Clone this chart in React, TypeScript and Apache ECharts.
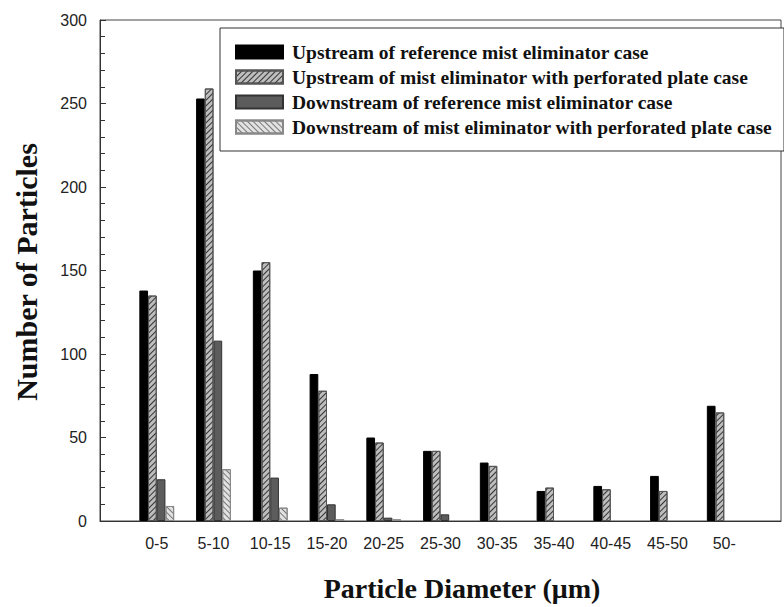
import React, { useEffect, useRef } from "react";
import * as echarts from "echarts";

const categories = ["", "0-5", "5-10", "10-15", "15-20", "20-25", "25-30", "30-35", "35-40", "40-45", "45-50", "50-", ""];
const upstreamRef = [null, 138, 253, 150, 88, 50, 42, 35, 18, 21, 27, 69, null];
const upstreamPerf = [null, 135, 259, 155, 78, 47, 42, 33, 20, 19, 18, 65, null];
const downstreamRef = [null, 25, 108, 26, 10, 2, 4, null, null, null, null, null, null];
const downstreamPerf = [null, 9, 31, 8, 1, 1, null, null, null, null, null, null, null];
const yTicks = [0, 50, 100, 150, 200, 250, 300];

const seriesNames = [
  "Upstream of reference mist eliminator case",
  "Upstream of mist eliminator with perforated plate case",
  "Downstream of reference mist eliminator case",
  "Downstream of mist eliminator with perforated plate case",
];

export default function App() {
  const ref = useRef<HTMLDivElement>(null);
  useEffect(() => {
    if (!ref.current) return;
    const chart = echarts.init(ref.current, null, { renderer: "svg" });
    const barW = 8.7;
    const option: any = {
      animation: false,
      backgroundColor: "#fff",
      grid: {
        left: 100,
        top: 20,
        right: -8,
        bottom: 86,
        show: true,
        borderColor: "#444",
        borderWidth: 1,
        backgroundColor: "transparent",
      },
      legend: {
        orient: "vertical",
        left: 220,
        top: 28,
        backgroundColor: "#fff",
        borderColor: "#333",
        borderWidth: 1,
        padding: [14, 12, 14, 15],
        itemWidth: 47,
        itemHeight: 13,
        itemGap: 5,
        icon: "rect",
        textStyle: {
          fontFamily: "Liberation Serif",
          fontWeight: "bold",
          fontSize: 19.5,
          color: "#111",
          padding: [0, 0, 0, 4],
        },
        data: seriesNames,
      },
      xAxis: {
        type: "category",
        data: categories,
        boundaryGap: false,
        axisLine: { lineStyle: { color: "#333", width: 1 } },
        axisTick: { show: false },
        axisLabel: {
          interval: 0,
          margin: 14,
          fontFamily: "Liberation Sans",
          fontSize: 16,
          color: "#222",
        },
        splitLine: { show: false },
      },
      yAxis: {
        type: "value",
        min: yTicks[0],
        max: yTicks[yTicks.length - 1],
        interval: 50,
        axisLine: { show: true, lineStyle: { color: "#333", width: 1 } },
        axisTick: { show: true, inside: true, length: 6, lineStyle: { color: "#333" } },
        minorTick: { show: true, splitNumber: 5, length: 5, lineStyle: { color: "#333" } },
        axisLabel: {
          margin: 13,
          fontFamily: "Liberation Sans",
          fontSize: 16,
          color: "#222",
        },
        splitLine: { show: false },
      },
      graphic: [
        {
          type: "text",
          x: 26,
          y: 272,
          rotation: Math.PI / 2,
          style: {
            text: "Number of Particles",
            fontFamily: "Liberation Serif",
            fontWeight: "bold",
            fontSize: 30,
            fill: "#111",
            textAlign: "center",
            textVerticalAlign: "middle",
          },
        },
        {
          type: "text",
          x: 462,
          y: 588,
          style: {
            text: "Particle Diameter (\u03bcm)",
            fontFamily: "Liberation Serif",
            fontWeight: "bold",
            fontSize: 28,
            fill: "#111",
            textAlign: "center",
            textVerticalAlign: "middle",
          },
        },
      ],
      series: [
        {
          name: seriesNames[0],
          type: "bar",
          data: upstreamRef,
          barWidth: barW,
          barGap: "0%",
          itemStyle: { color: "#000", borderColor: "#000", borderWidth: 1 },
        },
        {
          name: seriesNames[1],
          type: "bar",
          data: upstreamPerf,
          barWidth: barW,
          barGap: "0%",
          itemStyle: {
            color: "#bdbdbd",
            borderColor: "#555",
            borderWidth: 1,
            decal: {
              symbol: "rect",
              symbolSize: 1,
              color: "#333",
              backgroundColor: "#bdbdbd",
              dashArrayX: [1, 0],
              dashArrayY: [1, 3],
              rotation: -Math.PI / 4,
            },
          },
        },
        {
          name: seriesNames[2],
          type: "bar",
          data: downstreamRef,
          barWidth: barW,
          barGap: "0%",
          itemStyle: { color: "#5c5c5c", borderColor: "#333", borderWidth: 1 },
        },
        {
          name: seriesNames[3],
          type: "bar",
          data: downstreamPerf,
          barWidth: barW,
          barGap: "0%",
          itemStyle: {
            color: "#e2e2e2",
            borderColor: "#888",
            borderWidth: 1,
            decal: {
              symbol: "rect",
              symbolSize: 1,
              color: "#777",
              backgroundColor: "#e2e2e2",
              dashArrayX: [1, 0],
              dashArrayY: [1, 3],
              rotation: Math.PI / 4,
            },
          },
        },
      ],
    };
    chart.setOption(option);
    return () => chart.dispose();
  }, []);
  return (
    <div
      ref={ref}
      style={{ position: "fixed", left: 0, top: 0, width: 784, height: 607 }}
    />
  );
}
